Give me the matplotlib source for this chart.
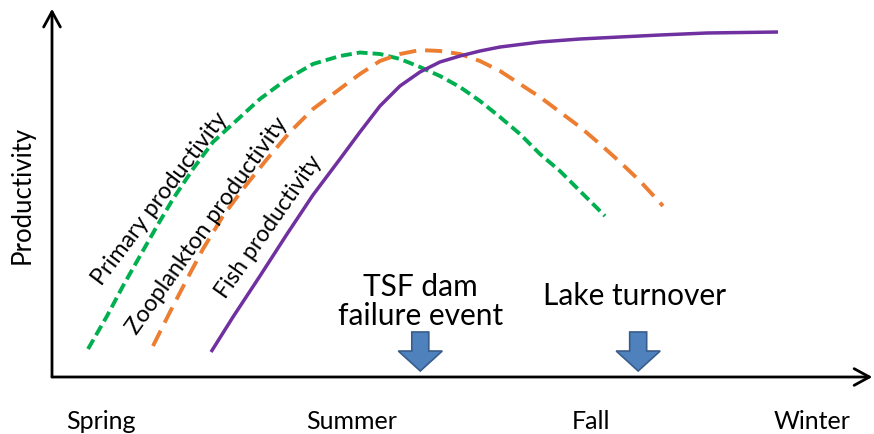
import matplotlib
matplotlib.use("Agg")
import matplotlib.pyplot as plt

plt.rcParams['font.family'] = ['Lato', 'DejaVu Sans']

# ---- data (arbitrary units: time 0-100, productivity 0-100) ----
primary_x = [4.43, 6.77, 8.73, 10.82, 12.92, 14.88, 17.34, 19.80, 22.76, 25.58, 28.91, 32.10,
             35.42, 37.88, 40.34, 42.80, 45.26, 47.72, 50.18, 52.64, 55.10, 57.56, 60.02,
             62.48, 64.94, 68.02]
primary_y = [7.65, 16.67, 24.86, 33.06, 41.26, 48.63, 56.83, 64.21, 70.22, 75.96, 81.42, 85.52,
             87.70, 88.66, 88.25, 86.89, 84.70, 82.24, 79.23, 75.41, 71.04, 66.39, 60.93,
             56.28, 50.82, 43.99]

zoo_x = [12.42, 14.51, 16.61, 18.57, 21.03, 23.49, 26.45, 29.27, 32.10, 35.06, 37.88, 40.34,
         42.80, 45.26, 47.72, 50.18, 52.64, 55.10, 57.56, 60.02, 62.48, 64.94, 67.40, 69.86,
         72.32, 75.15]
zoo_y = [8.47, 17.76, 26.78, 34.97, 43.99, 51.37, 59.56, 66.94, 73.22, 78.14, 82.79, 86.34,
         88.25, 89.34, 89.07, 88.25, 86.34, 83.61, 80.05, 76.50, 72.40, 68.31, 63.66, 58.74,
         53.55, 46.72]

fish_x = [19.56, 22.26, 25.58, 28.91, 32.10, 35.42, 37.88, 40.34, 42.80, 45.26, 47.72, 50.18,
          52.64, 55.10, 60.02, 64.94, 69.86, 74.78, 80.57, 89.30]
fish_y = [6.83, 16.39, 27.60, 39.07, 49.73, 59.56, 66.94, 74.04, 79.51, 83.33, 86.07, 87.70,
          89.07, 90.16, 91.53, 92.35, 92.90, 93.44, 93.99, 94.26]

seasons = ['Spring', 'Summer', 'Fall', 'Winter']
season_pos = [6.0, 36.9, 66.3, 93.5]

events = ['TSF dam\nfailure event', 'Lake turnover']
event_pos = [45.3, 72.1]

# ---- figure ----
fig = plt.figure(figsize=(8.74, 4.35), dpi=100)
ax = fig.add_axes([52/874, 57/435, 813/874, 366/435])
ax.set_xlim(0, 100)
ax.set_ylim(0, 100)
for s in ax.spines.values():
    s.set_visible(False)

# axes with arrow heads
arrow_kw = dict(arrowstyle='->,head_length=0.55,head_width=0.3', lw=2.0, color='black',
                shrinkA=0, shrinkB=0, mutation_scale=20)
ax.annotate('', xy=(1.009, 0), xytext=(0, 0), xycoords='axes fraction',
            textcoords='axes fraction', arrowprops=arrow_kw, annotation_clip=False)
ax.annotate('', xy=(0, 1.006), xytext=(0, 0), xycoords='axes fraction',
            textcoords='axes fraction', arrowprops=arrow_kw, annotation_clip=False)

# curves
ax.plot(primary_x, primary_y, color='#00B050', lw=2.8, dashes=(2.8, 1.3), dash_joinstyle='round')
ax.plot(zoo_x, zoo_y, color='#ED7D31', lw=2.8, dashes=(4.4, 2.3), dash_joinstyle='round')
ax.plot(fish_x, fish_y, color='#7030A0', lw=2.5, solid_joinstyle='round', solid_capstyle='butt')

# curve labels
ax.text(13.3, 49.0, 'Primary productivity', rotation=53, rotation_mode='anchor',
        ha='center', va='center', fontsize=16.8, color='black')
ax.text(19.1, 41.6, 'Zooplankton productivity', rotation=54.5, rotation_mode='anchor',
        ha='center', va='center', fontsize=16.8, color='black')
ax.text(26.7, 41.3, 'Fish productivity', rotation=55, rotation_mode='anchor',
        ha='center', va='center', fontsize=16.5, color='black')

# events: text + block arrows
ax.text(event_pos[0], 14.5, events[0], ha='center', va='baseline', fontsize=21.5,
        linespacing=1.05)
ax.text(71.6, 19.9, events[1], ha='center', va='baseline', fontsize=21.5)
for xp in event_pos:
    ax.arrow(xp, 12.3, 0, -10.66, width=2.09, head_width=5.41,
             head_length=5.46, length_includes_head=True,
             facecolor='#4F81BD', edgecolor='#385D8A', lw=1.2)

# season labels
ax.set_xticks(season_pos)
ax.set_xticklabels(seasons, fontsize=18)
ax.tick_params(axis='x', length=0, pad=23)
ax.set_yticks([])

ax.set_ylabel('Productivity', fontsize=18.5, va='center')
ax.yaxis.set_label_coords(-0.037, 0.5)

fig.savefig('out.png', dpi=100)
